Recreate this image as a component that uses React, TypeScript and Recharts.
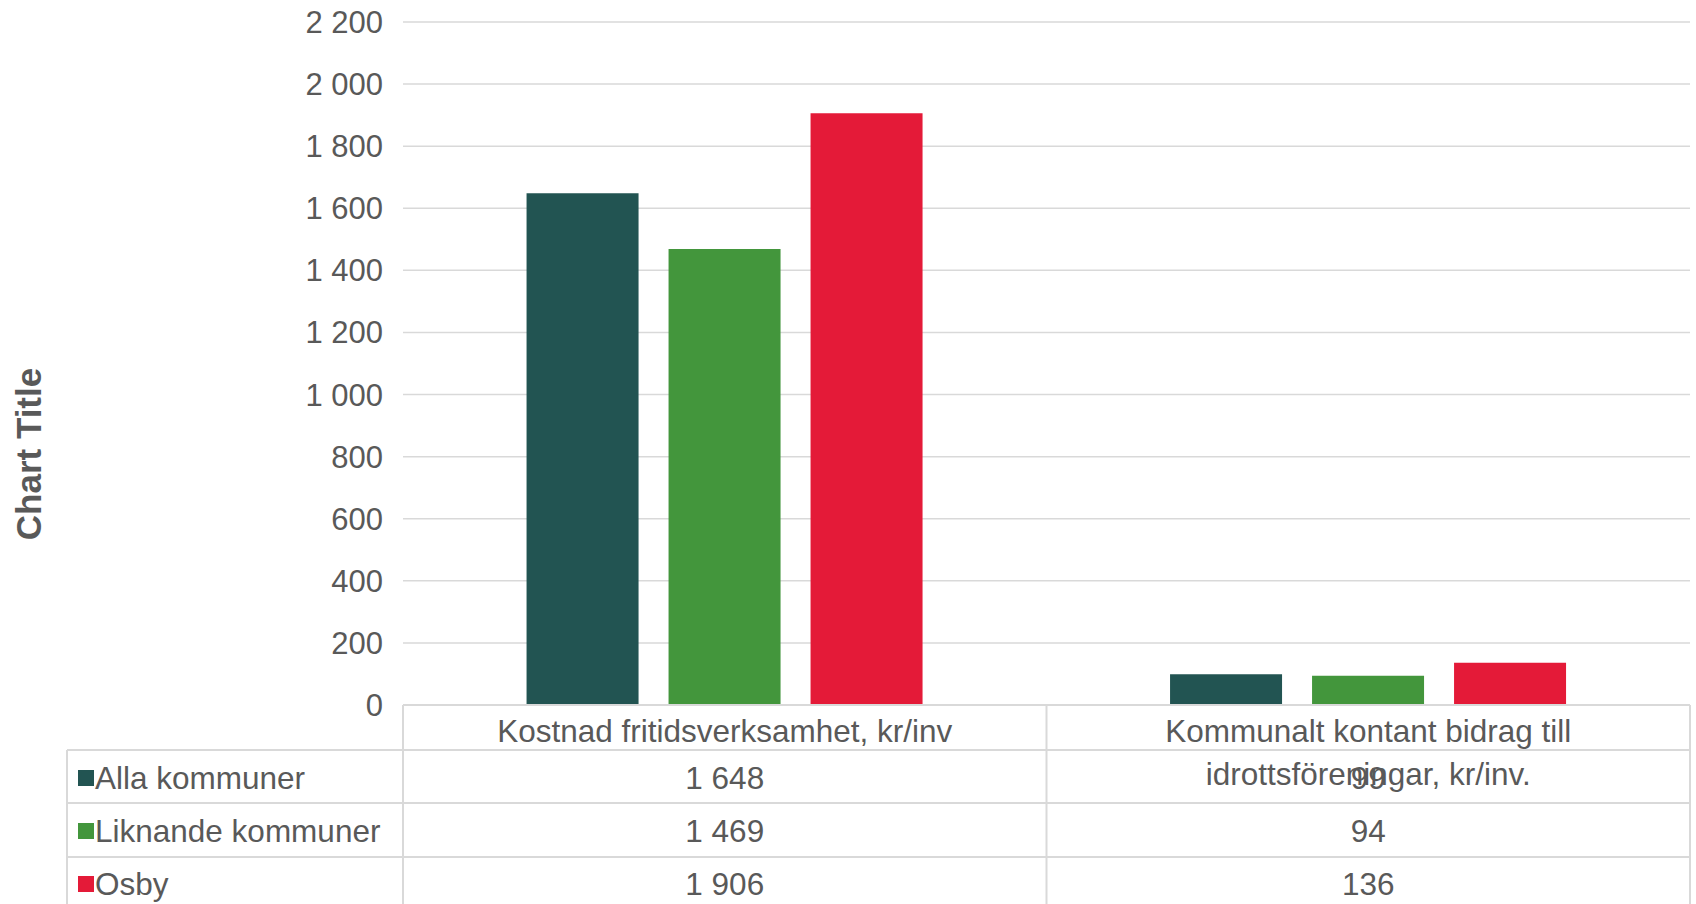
import { BarChart, Bar, XAxis, YAxis, CartesianGrid, Label } from 'recharts';

const categories = [
  'Kostnad fritidsverksamhet, kr/inv',
  'Kommunalt kontant bidrag till idrottsföreningar, kr/inv.',
];
const seriesNames = ['Alla kommuner', 'Liknande kommuner', 'Osby'];
const allaKommuner = [1648, 99];
const liknandeKommuner = [1469, 94];
const osby = [1906, 136];
const yTicks = [0, 200, 400, 600, 800, 1000, 1200, 1400, 1600, 1800, 2000, 2200];

const seriesKeys = ['alla', 'liknande', 'osby'];
const seriesValues = [allaKommuner, liknandeKommuner, osby];
const colors = ['#225452', '#43963C', '#E41A38'];

const data = categories.map((name, i) => ({
  name,
  alla: allaKommuner[i],
  liknande: liknandeKommuner[i],
  osby: osby[i],
}));

const W = 1696;
const H = 904;
const PLOT_LEFT = 403;
const PLOT_RIGHT = 1690;
const PLOT_TOP = 22;
const PLOT_BOTTOM = 705;
const TABLE_LEFT = 67;
const ROW_LINES = [750, 803, 857];
const ROW_BASELINES = [789, 842, 895];
const GRID = '#d9d9d9';
const TEXT = '#595959';
const FONT = '"Liberation Sans", Arial, sans-serif';
const FS = 31;
const LABEL_FS = 31.5;

const fmt = (v: number) => String(v).replace(/\B(?=(\d{3})+(?!\d))/g, ' ');

// greedy word wrap, measured with a canvas
function wrap(str: string, maxWidth: number): string[] {
  const ctx = document.createElement('canvas').getContext('2d');
  if (!ctx) return [str];
  ctx.font = `${LABEL_FS}px ${FONT}`;
  const lines: string[] = [];
  let cur = '';
  for (const w of str.split(' ')) {
    const next = cur ? cur + ' ' + w : w;
    if (cur && ctx.measureText(next).width > maxWidth) {
      lines.push(cur);
      cur = w;
    } else {
      cur = next;
    }
  }
  if (cur) lines.push(cur);
  return lines;
}

// x-axis tick draws the category label plus the data table column under it
function TableTick(props: any) {
  const { x, payload } = props;
  const index = props.index ?? payload.index ?? 0;
  const half = (PLOT_RIGHT - PLOT_LEFT) / categories.length / 2;
  const lines = wrap(String(payload.value), 600);
  return (
    <g>
      <line x1={x + half} y1={PLOT_BOTTOM} x2={x + half} y2={H} stroke={GRID} strokeWidth={2} />
      {index === 0 && (
        <g>
          <line x1={x - half} y1={PLOT_BOTTOM} x2={x - half} y2={H} stroke={GRID} strokeWidth={2} />
          <line x1={TABLE_LEFT} y1={ROW_LINES[0]} x2={TABLE_LEFT} y2={H} stroke={GRID} strokeWidth={2} />
          {ROW_LINES.map((y) => (
            <line key={y} x1={TABLE_LEFT} y1={y} x2={PLOT_RIGHT} y2={y} stroke={GRID} strokeWidth={2} />
          ))}
          {seriesNames.map((n, r) => (
            <g key={n}>
              <rect x={78} y={ROW_BASELINES[r] - 19} width={16} height={16} fill={colors[r]} />
              <text x={95} y={ROW_BASELINES[r]} fill={TEXT} fontSize={LABEL_FS} fontFamily={FONT}>
                {n}
              </text>
            </g>
          ))}
        </g>
      )}
      {lines.map((ln, li) => (
        <text
          key={li}
          x={x}
          y={742 + li * 43}
          textAnchor="middle"
          fill={TEXT}
          fontSize={LABEL_FS}
          fontFamily={FONT}
        >
          {ln}
        </text>
      ))}
      {seriesValues.map((vals, r) => (
        <text
          key={r}
          x={x}
          y={ROW_BASELINES[r]}
          textAnchor="middle"
          fill={TEXT}
          fontSize={LABEL_FS}
          fontFamily={FONT}
        >
          {fmt(vals[index])}
        </text>
      ))}
    </g>
  );
}

export default function App() {
  return (
    <div style={{ position: 'absolute', left: 0, top: 0, width: W, height: H, background: '#fff' }}>
      <BarChart
        width={W}
        height={H}
        data={data}
        margin={{ top: PLOT_TOP, right: W - PLOT_RIGHT, bottom: 0, left: 0 }}
        barCategoryGap="19.2%"
        barGap={30}
      >
        <CartesianGrid vertical={false} stroke={GRID} strokeWidth={1.5} />
        <XAxis
          dataKey="name"
          height={H - PLOT_BOTTOM}
          interval={0}
          tickLine={false}
          axisLine={{ stroke: GRID, strokeWidth: 2 }}
          tick={<TableTick />}
        />
        <YAxis
          width={PLOT_LEFT}
          domain={[0, 2200]}
          ticks={yTicks}
          interval={0}
          tickLine={false}
          axisLine={false}
          tickMargin={14}
          tickFormatter={fmt}
          tick={{ fill: TEXT, fontSize: FS, fontFamily: FONT }}
        >
          <Label
            content={() => (
              <text
                x={28}
                y={454}
                transform="rotate(-90 28 454)"
                textAnchor="middle"
                dominantBaseline="central"
                fill={TEXT}
                fontSize={35}
                fontWeight="bold"
                fontFamily={FONT}
              >
                Chart Title
              </text>
            )}
          />
        </YAxis>
        {seriesKeys.map((k, i) => (
          <Bar key={k} dataKey={k} name={seriesNames[i]} fill={colors[i]} isAnimationActive={false} />
        ))}
      </BarChart>
    </div>
  );
}
